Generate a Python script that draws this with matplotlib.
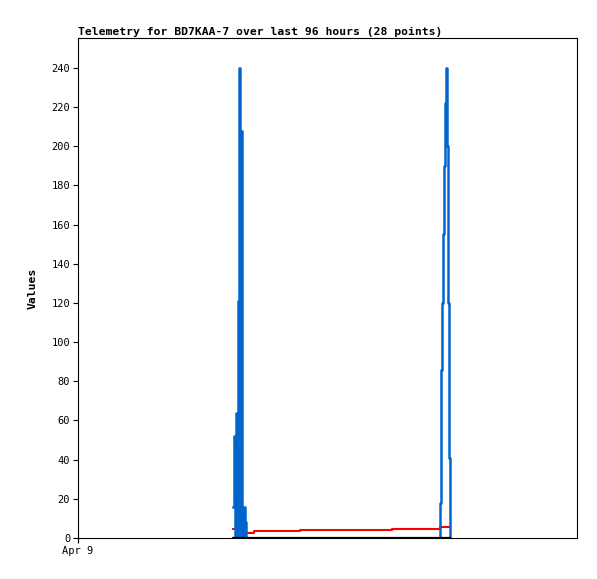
import matplotlib
matplotlib.use("Agg")
import matplotlib.pyplot as plt

# time in hours since start of window (Apr 9 00:00), 96 hour window
blue_t = [29.86, 29.97, 30.09, 30.20, 30.36, 30.51, 30.78, 31.01, 31.17, 31.36,
          31.51, 31.63, 31.86, 32.05, 32.20, 32.36,
          69.60, 69.72, 69.80, 69.91, 70.03, 70.18, 70.34, 70.53, 70.76, 70.99,
          71.14, 71.34, 71.49]
blue_v = [16, 28, 52, 0, 64, 0, 121, 240, 0, 208,
          88, 0, 16, 0, 8, 0,
          0, 18, 52, 86, 120, 155, 190, 222, 240, 200,
          120, 41, 0]

red_t = [29.82, 32.3, 33.95, 42.8, 60.4, 69.7, 71.57]
red_v = [4.6, 2.8, 3.6, 4.1, 4.6, 5.6, 5.6]

black_t = [29.82, 71.57]
black_v = [0, 0]

x_ticks = [0]
x_labels = ["Apr 9"]
y_ticks = list(range(0, 241, 20))

mono = "DejaVu Sans Mono"

fig = plt.figure(figsize=(5.97, 5.79), dpi=100)
ax = fig.add_axes([78 / 597, 1 - 538 / 579, 499 / 597, 500 / 579])

ax.plot(red_t, red_v, color="#ff0000", lw=1.5, drawstyle="steps-post")
ax.plot(blue_t, blue_v, color="#0066cc", lw=1.8, drawstyle="steps-post")
ax.plot(black_t, black_v, color="black", lw=1.6)

ax.set_xlim(0, 96)
ax.set_ylim(0, 255.3)
ax.set_xticks(x_ticks)
ax.set_xticklabels(x_labels, family=mono, fontsize=7.5)
ax.set_yticks(y_ticks)
ax.set_yticklabels([str(v) for v in y_ticks], family=mono, fontsize=7.5)
ax.tick_params(direction="out", length=3.6, width=0.8, pad=2)

for s in ax.spines.values():
    s.set_linewidth(0.8)

ax.set_ylabel("Values", family=mono, fontweight="bold", fontsize=8.2, labelpad=10)
ax.set_title("Telemetry for BD7KAA-7 over last 96 hours (28 points)",
             family=mono, fontweight="bold", fontsize=8.2, loc="left", pad=2)

fig.savefig("out.png", dpi=100)
